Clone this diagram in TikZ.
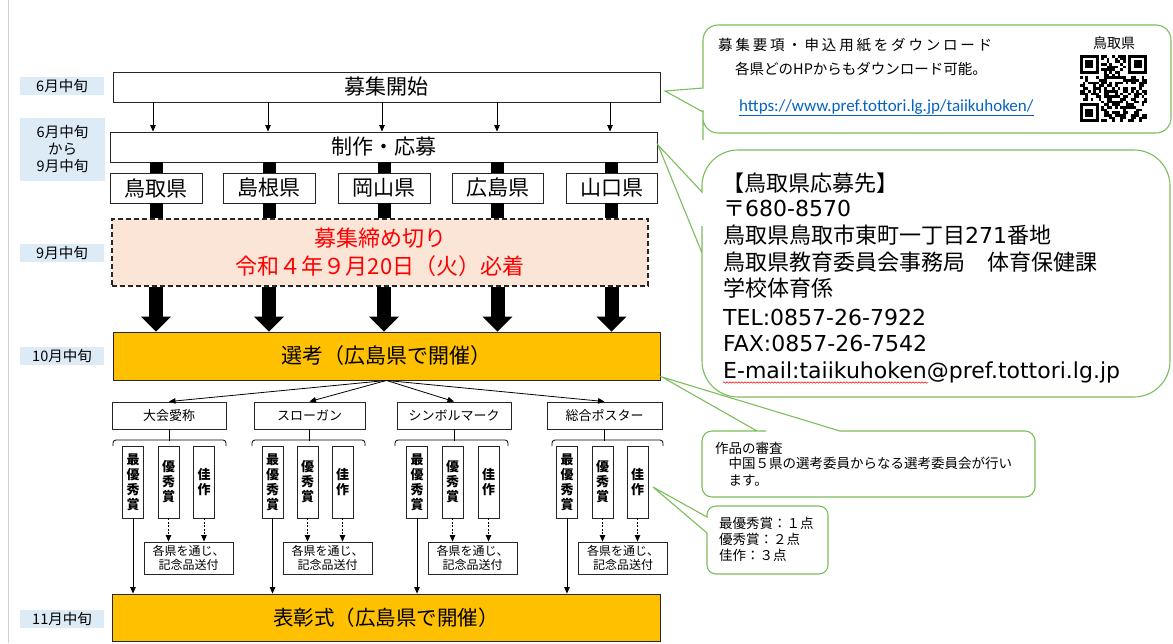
\documentclass[tikz,border=0pt]{standalone}
\usepackage{fontspec}
\setmainfont{Noto Sans CJK JP}
\newfontfamily\lat{DejaVu Sans}
\newfontfamily\urlf{Carlito}
\usetikzlibrary{arrows.meta,decorations.pathmorphing}
\definecolor{lblue}{HTML}{DDEBF7}
\definecolor{gold}{HTML}{FFC000}
\definecolor{pinkbg}{HTML}{FBE5D6}
\definecolor{cgreen}{RGB}{125,190,90}
\definecolor{urlblue}{HTML}{0563C1}
\newcommand\fs[2]{\fontsize{#1}{#2}\selectfont}
\begin{document}
\begin{tikzpicture}[x=1pt,y=-1pt,
  box/.style={draw=black!85, line width=0.9pt, fill=white, inner sep=0pt, align=center},
  mlab/.style={fill=lblue, inner sep=0pt, align=center, minimum width=84pt, font=\fs{14.5}{17}},
  tarr/.style={line width=0.8pt, -{Triangle[width=5.5pt,length=6.5pt]}},
  darr/.style={line width=0.8pt, dash pattern=on 2pt off 1.5pt, -{Triangle[width=5.5pt,length=6.5pt]}},
  cbox/.style={draw=cgreen, line width=1.1pt, fill=white},
  txt/.style={inner sep=0pt, anchor=base west},
  brk/.style={line width=0.8pt, rounded corners=3pt},
  award/.style={minimum width=21pt, minimum height=72pt, font=\bfseries\fs{13}{15}},
  gift/.style={minimum width=89pt, minimum height=32pt, font=\fs{12}{14}},
  cat/.style={minimum height=27pt, font=\fs{13}{15}},
  pref/.style={minimum height=30pt, font=\fs{21}{24}}
]
\useasboundingbox (0,0) rectangle (1173,643);
\fill[white] (0,0) rectangle (1173,643);
\draw[black!18, line width=1pt] (8,0) -- (8,643);

% month labels
\node[mlab, minimum height=18pt] (m1) at (62,86) {6月中旬};
\node[mlab, minimum height=63pt, minimum width=85pt] (m2) at (62.5,149.5) {6月中旬\\から\\9月中旬};
\node[mlab, minimum height=18pt] (m3) at (62,253) {9月中旬};
\node[mlab, minimum height=18pt] (m4) at (62,356) {10月中旬};
\node[mlab, minimum height=18pt] (m5) at (62,619) {11月中旬};

% main flow
\node[box, minimum width=547pt, minimum height=30pt, font=\fs{21}{24}] (st) at (386.5,87) {募集開始};
\node[box, minimum width=547pt, minimum height=30pt, font=\fs{21}{24}] (ap) at (383.5,147) {制作・応募};
\node[box, pref, minimum width=92pt] (tottori) at (156,188) {鳥取県};
\node[box, pref, minimum width=92pt] (shimane) at (269,188) {島根県};
\node[box, pref, minimum width=92pt] (okayama) at (384,188) {岡山県};
\node[box, pref, minimum width=91pt] (hiroshima) at (497.5,188) {広島県};
\node[box, pref, minimum width=91pt] (yamaguchi) at (611.5,188) {山口県};
\node[box, fill=pinkbg, dash pattern=on 5pt off 3pt, line width=1.6pt, minimum width=536pt, minimum height=67pt, text=red, font=\fs{22}{28}] (dl) at (380,252.5) {募集締め切り\\令和４年９月20日（火）必着};
\node[box, fill=gold, minimum width=547pt, minimum height=48pt, font=\fs{21}{24}] (sk) at (386.5,356) {選考（広島県で開催）};
\node[box, fill=gold, minimum width=548pt, minimum height=47pt, font=\fs{20.5}{24}] (hy) at (386,617.5) {表彰式（広島県で開催）};

\foreach \x in {153,268,382,497,610}
  \draw[tarr] (\x,0 |- st.south) -- (\x,0 |- ap.north);
\foreach \p in {tottori,shimane,okayama,hiroshima,yamaguchi}{
  \draw[line width=13pt] (\p |- ap.south) -- (\p.north);
  \draw[line width=13pt] (\p.south) -- (\p |- dl.north);
  \draw[line width=14pt, -{Triangle[width=29pt,length=15pt]}] (\p |- dl.south) -- (\p |- sk.north);
}

% categories
\node[box, cat, minimum width=114pt] (cat1) at (169,415.5) {大会愛称};
\node[box, cat, minimum width=111pt] (cat2) at (309.5,415.5) {スローガン};
\node[box, cat, minimum width=114pt] (cat3) at (454,415.5) {シンボルマーク};
\node[box, cat, minimum width=115pt] (cat4) at (604.5,415.5) {総合ポスター};
\foreach \c in {cat1,cat2,cat3,cat4}{
  \draw[tarr] (sk.south) -- (\c.north);
  \draw[line width=0.8pt] (\c.south) -- ++(0,11.5);
}
\draw[brk] (113,446) -- (113,440) -- (226,440) -- (226,446);
\draw[brk] (252,446) -- (252,440) -- (365,440) -- (365,446);
\draw[brk] (395,446) -- (395,440) -- (508,440) -- (508,446);
\draw[brk] (552,446) -- (552,440) -- (663,440) -- (663,446);

\foreach \g/\a/\b/\c in {1/133/168.5/204, 2/272.5/307.5/342.5, 3/417/452.5/488.5, 4/567/602.5/637.5}{
  \node[box, award] (aw-\g-a) at (\a,482) {最\\優\\秀\\賞};
  \node[box, award] (aw-\g-b) at (\b,482) {優\\秀\\賞};
  \node[box, award] (aw-\g-c) at (\c,482) {佳\\作};
}
\foreach \g/\x in {1/188.5, 2/327.5, 3/472.5, 4/623}
  \node[box, gift] (gf-\g) at (\x,558) {各県を通じ、\\記念品送付};
\foreach \g in {1,2,3,4}{
  \draw[tarr] (aw-\g-a.south) -- (aw-\g-a.south |- hy.north);
  \draw[darr] (aw-\g-b.south) -- (aw-\g-b.south |- gf-\g.north);
  \draw[darr] (aw-\g-c.south) -- (aw-\g-c.south |- gf-\g.north);
}

% callout 1
\draw[cbox] (665,91) -- (703,88) -- (703,87) [rounded corners=15pt] -- (703,25) -- (1171,25) -- (1171,133) -- (703,133) -- (703,125) [sharp corners] -- (703,112) -- cycle;
\node[txt, font=\fs{14.5}{17}] (c1a) at (718,50.4) {\makebox[274pt][s]{募\hfil 集\hfil 要\hfil 項\hfil ・\hfil 申\hfil 込\hfil 用\hfil 紙\hfil を\hfil ダ\hfil ウ\hfil ン\hfil ロ\hfil ー\hfil ド}};
\node[txt, font=\fs{14.5}{17}] (c1b) at (735,74.4) {各県どのHPからもダウンロード可能。};
\node[txt, font=\urlf\fs{17}{20}, text=urlblue] (c1c) at (739,111) {\underline{https://www.pref.tottori.lg.jp/taiikuhoken/}};
\node[inner sep=0pt, font=\fs{14}{16}] (qrl) at (1114,43) {鳥取県};
\begin{scope}[shift={(1080,55)}]
  \pgfmathsetseed{20220920}
  \foreach \i in {0,...,24}{
    \foreach \j in {0,...,24}{
      \pgfmathtruncatemacro\inq{((\i<8)&&(\j<8))||((\i>16)&&(\j<8))||((\i<8)&&(\j>16))?0:1}
      \ifnum\inq=1
        \pgfmathrandominteger{\qrr}{0}{1}
        \ifnum\qrr=1 \fill (\i*2.68,\j*2.68) rectangle ++(2.68,2.68); \fi
      \fi
    }
  }
  \foreach \fx/\fy in {0/0, 18/0, 0/18}{
    \fill (\fx*2.68,\fy*2.68) rectangle ++(18.76,18.76);
    \fill[white] (\fx*2.68+2.68,\fy*2.68+2.68) rectangle ++(13.4,13.4);
    \fill (\fx*2.68+5.36,\fy*2.68+5.36) rectangle ++(8.04,8.04);
  }
\end{scope}

% callout 2
\draw[cbox] (658,145) -- (702,192) -- (702,191) [rounded corners=36pt] -- (702,150) -- (1170,150) -- (1170,397) -- (702,397) -- (702,262) [sharp corners] -- (702,253) -- cycle;
\node[txt, font=\fs{22}{26}] (c2a) at (722,191) {【鳥取県応募先】};
\node[txt, font=\fs{22}{26}] (c2b) at (723,216) {〒{\lat 680-8570}};
\node[txt, font=\fs{22}{26}] (c2c) at (723,243) {鳥取県鳥取市東町一丁目{\lat 271}番地};
\node[txt, font=\fs{22}{26}] (c2d) at (723,270) {鳥取県教育委員会事務局　体育保健課};
\node[txt, font=\fs{22}{26}] (c2e) at (723,296) {学校体育係};
\node[txt, font=\lat\fs{22}{26}] (c2f) at (723,325) {TEL:0857-26-7922};
\node[txt, font=\lat\fs{22}{26}] (c2g) at (723,351) {FAX:0857-26-7542};
\node[txt, font=\lat\fs{22}{26}] (c2h) at (723,378) {E-mail:taiikuhoken@pref.tottori.lg.jp};
\draw[red, line width=0.5pt, decorate, decoration={snake, amplitude=0.7pt, segment length=3pt}] (723,382.5) -- (928,382.5);

% callout 3
\draw[cbox] (662,377) -- (840,431) -- (841,431) [rounded corners=10pt] -- (1035,431) -- (1035,497) -- (702,497) -- (702,431) -- (756,431) [sharp corners] -- (757,431) -- cycle;
\node[txt, font=\fs{13.5}{16}] (c3a) at (715,453) {作品の審査};
\node[txt, font=\fs{13.5}{16}] (c3b) at (715,468) {　中国５県の選考委員からなる選考委員会が行い};
\node[txt, font=\fs{13.5}{16}] (c3c) at (715,485) {　ます。};

% callout 4
\draw[cbox] (653,487) -- (707,517) -- (707,516) [rounded corners=9pt] -- (707,506) -- (828,506) -- (828,574) -- (707,574) -- (707,545) [sharp corners] -- (707,533) -- cycle;
\node[txt, font=\fs{13.5}{16}] (c4a) at (719,528) {最優秀賞：１点};
\node[txt, font=\fs{13.5}{16}] (c4b) at (719,544) {優秀賞：２点};
\node[txt, font=\fs{13.5}{16}] (c4c) at (719,560) {佳作：３点};
\end{tikzpicture}
\end{document}
